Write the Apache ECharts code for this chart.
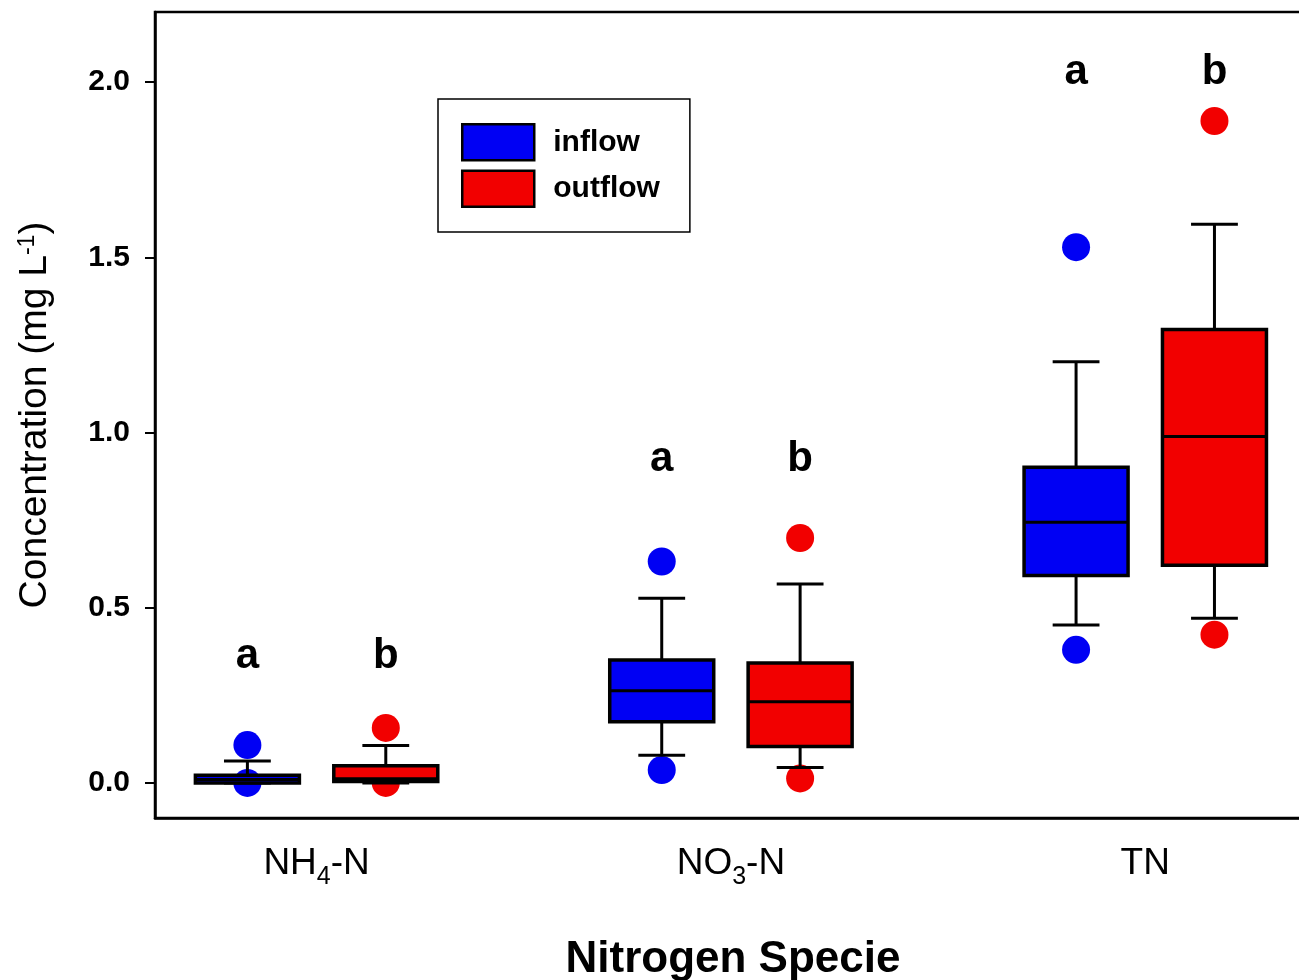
<!DOCTYPE html>
<html>
<head>
<meta charset="utf-8">
<script src="https://cdn.jsdelivr.net/npm/echarts@6/dist/echarts.min.js"></script>
<style>
  html, body { margin: 0; padding: 0; background: #fff; }
  #chart { width: 1299px; height: 980px; }
</style>
</head>
<body>
<div id="chart"></div>
<script>
// ── données ──────────────────────────────────────────────────────────────────
// une entrée par espèce : [min, Q1, médiane, Q3, max]
const species        = ['NH4-N', 'NO3-N', 'TN'];
const speciesLabels  = ['{n|NH}{sub|4}{n|-N}', '{n|NO}{sub|3}{n|-N}', '{n|TN}'];
const inflowStats    = [[0.000, 0.000, 0.010, 0.022, 0.063],
                        [0.079, 0.175, 0.263, 0.351, 0.527],
                        [0.451, 0.592, 0.744, 0.901, 1.202]];
const outflowStats   = [[0.000, 0.004, 0.012, 0.049, 0.107],
                        [0.044, 0.104, 0.232, 0.342, 0.568],
                        [0.470, 0.621, 0.989, 1.294, 1.594]];
const inflowOutliers  = [[0.108, 0.000], [0.632, 0.037], [1.529, 0.380]];
const outflowOutliers = [[0.157, 0.000], [0.699, 0.013], [1.889, 0.423]];
const inflowLetters   = ['a', 'a', 'a'];
const outflowLetters  = ['b', 'b', 'b'];
const letterHeights   = [0.362, 0.924, 2.029];
const yTicks          = [0, 0.5, 1.0, 1.5, 2.0];

// ── mise en page ─────────────────────────────────────────────────────────────
const OFFSET = 0.167;   // décalage inflow / outflow autour de la catégorie
const BOX_W  = 0.251;
const CAP_W  = 0.113;
const BLUE   = '#0000f4';
const RED    = '#f20000';
const FONT   = '"Liberation Sans", Arial, Helvetica, sans-serif';

const chart = echarts.init(document.getElementById('chart'), null, { renderer: 'canvas' });

const renderBox = function (params, api) {
  const x  = api.value(0);
  const lo = api.coord([x, api.value(1)]);
  const q1 = api.coord([x, api.value(2)]);
  const md = api.coord([x, api.value(3)]);
  const q3 = api.coord([x, api.value(4)]);
  const hi = api.coord([x, api.value(5)]);
  const bw = api.size([BOX_W, 0])[0];
  const cw = api.size([CAP_W, 0])[0];
  const cx = lo[0];
  const ln = { stroke: '#000', lineWidth: 3 };
  return {
    type: 'group',
    children: [
      { type: 'line', shape: { x1: cx, y1: hi[1], x2: cx, y2: q3[1] }, style: ln },
      { type: 'line', shape: { x1: cx, y1: q1[1], x2: cx, y2: lo[1] }, style: ln },
      { type: 'line', shape: { x1: cx - cw / 2, y1: hi[1], x2: cx + cw / 2, y2: hi[1] }, style: ln },
      { type: 'line', shape: { x1: cx - cw / 2, y1: lo[1], x2: cx + cw / 2, y2: lo[1] }, style: ln },
      { type: 'rect',
        shape: { x: cx - bw / 2, y: q3[1], width: bw, height: Math.max(1, q1[1] - q3[1]) },
        style: { fill: api.visual('color'), stroke: '#000', lineWidth: 3.5 } },
      { type: 'line', shape: { x1: cx - bw / 2, y1: md[1], x2: cx + bw / 2, y2: md[1] }, style: ln }
    ]
  };
};

const mkBoxes = (name, stats, shift, color) => ({
  name, type: 'custom', z: 3, clip: false,
  itemStyle: { color, opacity: 1 },
  renderItem: renderBox,
  encode: { x: 0, y: [1, 2, 3, 4, 5] },
  data: stats.map((s, i) => [i + 1 + shift].concat(s))
});

const mkOutliers = (name, outs, shift, color) => ({
  name, type: 'scatter', z: 2, symbol: 'circle', symbolSize: 28,
  itemStyle: { color, opacity: 1 },
  data: [].concat(...outs.map((o, i) => o.map(v => [i + 1 + shift, v])))
});

const mkLetters = (letters, shift) => ({
  type: 'scatter', z: 4, symbolSize: 0, silent: true,
  itemStyle: { opacity: 1 },
  label: {
    show: true, position: 'inside', color: '#000', opacity: 1,
    fontFamily: FONT, fontWeight: 'bold', fontSize: 42,
    formatter: p => p.value[2]
  },
  data: letters.map((l, i) => [i + 1 + shift, letterHeights[i], l])
});

chart.setOption({
  backgroundColor: '#fff',
  animation: false,
  textStyle: { fontFamily: FONT, color: '#000' },
  grid: {
    left: 155, top: 12, right: -12, bottom: 162,
    outerBoundsMode: 'none',
    show: true, borderColor: '#000', borderWidth: 2.5
  },
  legend: {
    orient: 'vertical', left: 438, top: 99,
    itemWidth: 72, itemHeight: 36, itemGap: 8,
    padding: [24, 30, 24, 23],
    borderColor: '#000', borderWidth: 1.5,
    selectedMode: false,
    textStyle: { fontFamily: FONT, fontSize: 30, fontWeight: 'bold', color: '#000', padding: [0, 0, 0, 14] },
    data: [
      { name: 'inflow',  icon: 'rect', itemStyle: { color: BLUE, opacity: 1, borderColor: '#000', borderWidth: 2.5 } },
      { name: 'outflow', icon: 'rect', itemStyle: { color: RED,  opacity: 1, borderColor: '#000', borderWidth: 2.5 } }
    ]
  },
  xAxis: {
    type: 'value', min: 0.61, max: 3.4,
    name: 'Nitrogen Specie', nameLocation: 'middle', nameGap: 120,
    nameTextStyle: { fontFamily: FONT, fontSize: 44, fontWeight: 'bold', color: '#000' },
    axisLine: { show: true, onZero: false, lineStyle: { color: '#000', width: 2.5 } },
    axisTick: { show: false },
    splitLine: { show: false },
    axisLabel: {
      customValues: [1, 2, 3],
      margin: 27,
      formatter: v => speciesLabels[Math.round(v) - 1],
      rich: {
        n:   { fontFamily: FONT, fontSize: 37, lineHeight: 37, color: '#000', verticalAlign: 'top' },
        sub: { fontFamily: FONT, fontSize: 25, lineHeight: 25, color: '#000', verticalAlign: 'middle', padding: [27, 0, 0, 0] }
      }
    }
  },
  yAxis: {
    type: 'value', min: -0.1, max: 2.2,
    name: '{n|Concentration (mg L}{sup|-1}{n|)}',
    nameLocation: 'middle', nameGap: 100,
    nameTextStyle: {
      rich: {
        n:   { fontFamily: FONT, fontSize: 39, lineHeight: 39, color: '#000', verticalAlign: 'bottom' },
        sup: { fontFamily: FONT, fontSize: 23, lineHeight: 23, color: '#000', verticalAlign: 'top', padding: [0, 0, 20, 0] }
      }
    },
    axisLine: { show: true, onZero: false, lineStyle: { color: '#000', width: 2.5 } },
    axisTick: { show: true, customValues: yTicks, length: 10, lineStyle: { color: '#000', width: 2 } },
    splitLine: { show: false },
    axisLabel: {
      customValues: yTicks, margin: 25,
      fontFamily: FONT, fontSize: 30, fontWeight: 'bold', color: '#000',
      formatter: v => v.toFixed(1)
    }
  },
  series: [
    mkOutliers('inflow',  inflowOutliers,  -OFFSET, BLUE),
    mkOutliers('outflow', outflowOutliers,  OFFSET, RED),
    mkBoxes('inflow',  inflowStats,  -OFFSET, BLUE),
    mkBoxes('outflow', outflowStats,  OFFSET, RED),
    mkLetters(inflowLetters,  -OFFSET),
    mkLetters(outflowLetters,  OFFSET)
  ]
});
</script>
</body>
</html>
